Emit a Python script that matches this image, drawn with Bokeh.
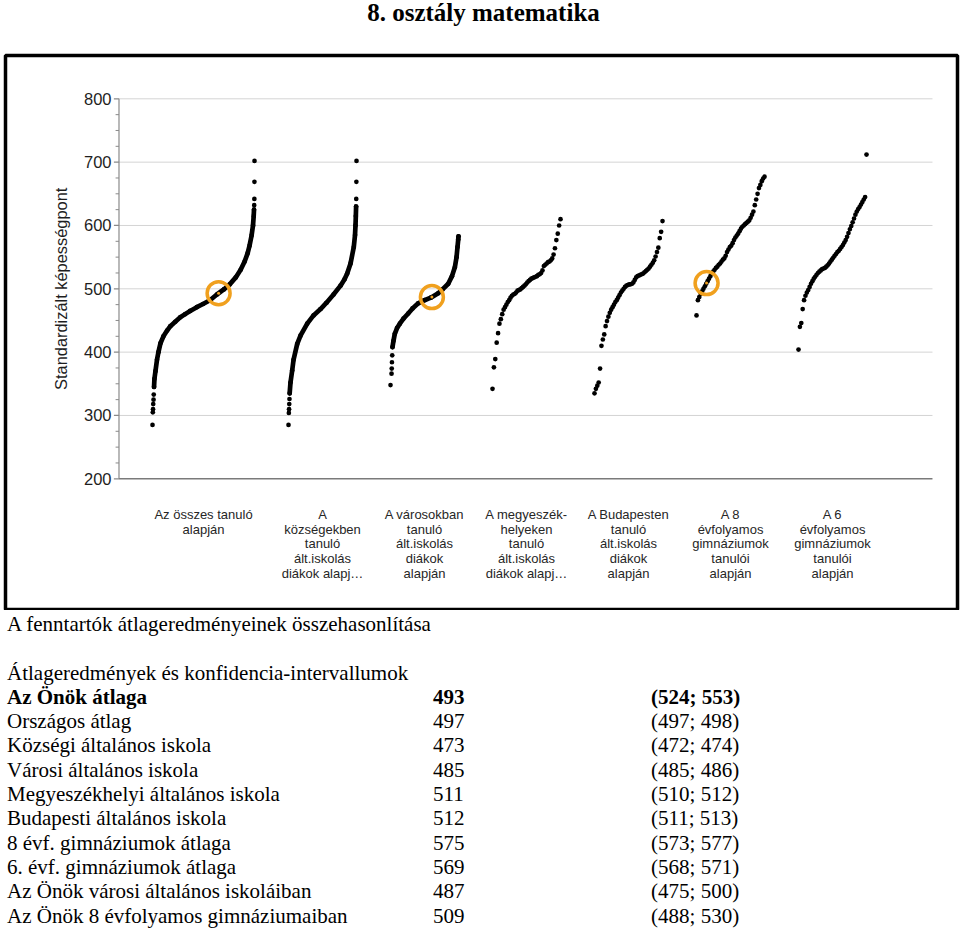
import numpy as np
from bokeh.plotting import figure
from bokeh.models import Range1d
from bokeh.layouts import column
from bokeh.embed import file_html
from bokeh.resources import INLINE
from bokeh.core.properties import value

# ---------------- data ----------------
TITLE = "8. osztály matematika"
Y_LABEL = "Standardizált képességpont"
Y_MAJOR_TICKS = [200, 300, 400, 500, 600, 700, 800]
Y_MINOR_STEP = 25

CATEGORIES = [
    "Az összes tanuló\nalapján",
    "A\nközségekben\ntanuló\nált.iskolás\ndiákok alapj…",
    "A városokban\ntanuló\nált.iskolás\ndiákok\nalapján",
    "A megyeszék-\nhelyeken\ntanuló\nált.iskolás\ndiákok alapj…",
    "A Budapesten\ntanuló\nált.iskolás\ndiákok\nalapján",
    "A 8\névfolyamos\ngimnáziumok\ntanulói\nalapján",
    "A 6\névfolyamos\ngimnáziumok\ntanulói\nalapján",
]

# dense groups: percentile rank inside the group and score
ALL_PCT = [0, 0.3, 0.5, 0.7, 1.0, 1.2, 1.5, 1.9, 2.9, 4.4, 5.8, 7.8, 10.7, 14.3, 17.5,
           22.3, 27.2, 32.0, 36.9, 43.4, 49.5, 56.3, 63.1, 69.9, 75.7, 81.6, 86.4, 90.3,
           93.2, 95.1, 97.1, 98.5, 99.2, 99.5, 99.7, 99.85, 99.93, 100]
ALL_SCORE = [285, 305, 310, 318, 325, 333, 345, 358, 370, 388, 400, 414, 425, 434, 441,
             448, 455, 460, 465, 471, 476, 482, 491, 499, 507, 518, 530, 543,
             556, 568, 584, 600, 615, 625, 632, 642, 669, 702]

VILLAGE_PCT = [0, 0.5, 0.8, 1.1, 1.4, 1.7, 2.9, 5.4, 7.4, 12.8, 17.6, 27.5, 36.8, 47.1,
               55.9, 66.2, 76.5, 82.4, 86.3, 91.2, 96.0, 97.8, 98.5, 99.0, 99.4, 99.6,
               99.8, 100]
VILLAGE_SCORE = [285, 304, 310, 318, 326, 335, 352, 371, 388, 413, 426, 445, 458, 468,
                 478, 491, 505, 515, 524, 540, 566, 585, 600, 615, 630, 642, 669, 702]

TOWN_PCT = [0, 1.5, 1.8, 2.1, 2.5, 2.9, 4.4, 6.3, 9.6, 13.7, 19.1, 26.0, 32.4, 40.7,
            50.0, 59.3, 70.1, 76.5, 84.9, 90.4, 94.6, 97.1, 98.5, 99.6, 100]
TOWN_SCORE = [348, 366, 374, 384, 395, 408, 418, 429, 438, 445, 453, 461, 469, 477,
              482, 486, 493, 499, 508, 520, 534, 550, 566, 578, 583]

# sparser groups: sorted school scores
COUNTY_SCORE = [342, 376, 389, 415, 430, 445, 452, 460, 467, 471,
                475, 479, 482, 486, 489, 491, 492, 494, 497, 498,
                499, 501, 503, 505, 507, 510, 512, 514, 516, 517,
                518, 519, 520, 522, 523, 525, 529, 536, 538, 540,
                542, 543, 545, 548, 554, 564, 577, 587, 600, 610]
BUDAPEST_SCORE = [335, 342, 347, 352, 374, 410, 420, 428, 441, 449,
                  456, 462, 467, 471, 475, 479, 482, 486, 490, 494,
                  497, 500, 503, 505, 506, 507, 507, 508, 510, 514,
                  518, 520, 521, 522, 523, 524, 526, 528, 530, 532,
                  535, 538, 541, 545, 551, 558, 565, 580, 590, 607]
GYM8_SCORE = [458, 482, 487, 492, 496, 500, 504, 508, 512, 516,
              520, 524, 527, 530, 533, 535, 538, 540, 543, 546,
              548, 552, 558, 562, 566, 568, 572, 577, 581, 584,
              587, 591, 595, 598, 600, 602, 604, 606, 608, 612,
              617, 622, 632, 641, 650, 659, 664, 670, 674, 677]
GYM6_SCORE = [404, 440, 446, 468, 482, 489, 494, 498, 503, 508,
              512, 516, 519, 522, 525, 527, 529, 531, 532, 533,
              535, 537, 540, 543, 546, 549, 552, 555, 558, 560,
              563, 566, 569, 573, 577, 582, 588, 594, 599, 605,
              611, 617, 622, 626, 629, 633, 637, 641, 645, 712]

SCHOOL_GROUP = [0, 2, 5]
SCHOOL_SCORE = [493, 487, 509]

TABLE_TITLE = "A fenntartók átlageredményeinek összehasonlítása"
TABLE_SUBTITLE = "Átlageredmények és konfidencia-intervallumok"
TABLE_ROWS = ["Az Önök átlaga", "Országos átlag", "Községi általános iskola",
              "Városi általános iskola", "Megyeszékhelyi általános iskola",
              "Budapesti általános iskola", "8 évf. gimnáziumok átlaga",
              "6. évf. gimnáziumok átlaga", "Az Önök városi általános iskoláiban",
              "Az Önök 8 évfolyamos gimnáziumaiban"]
TABLE_MEAN = [493, 497, 473, 485, 511, 512, 575, 569, 487, 509]
TABLE_CI_LOW = [524, 497, 472, 485, 510, 511, 573, 568, 475, 488]
TABLE_CI_HIGH = [553, 498, 474, 486, 512, 513, 577, 571, 500, 530]

# ---------------- layout / style ----------------
W = 960
SANS = value("Liberation Sans")
SERIF = value("Liberation Serif")
ORANGE = "#F0A01E"
DOT = 4.7

GROUP_WIDTH = [1.5, 1, 1, 1, 1, 1, 1]
GROUP_GAP = 0.5
left = np.concatenate([[0.0], np.cumsum(np.array(GROUP_WIDTH[:-1]) + GROUP_GAP)])
width = np.array(GROUP_WIDTH, dtype=float)
center = left + width / 2

sparse = [COUNTY_SCORE, BUDAPEST_SCORE, GYM8_SCORE, GYM6_SCORE]
group_pct = [np.array(ALL_PCT), np.array(VILLAGE_PCT), np.array(TOWN_PCT)] + \
            [np.linspace(0, 100, len(s)) for s in sparse]
group_score = [np.array(ALL_SCORE), np.array(VILLAGE_SCORE), np.array(TOWN_SCORE)] + \
              [np.array(s, dtype=float) for s in sparse]
LINE_PCT = {0: (1.5, 99.5), 1: (1.7, 99.4), 2: (2.9, 100)}

# ---------------- title ----------------
TT = 53
tf = figure(width=W, height=TT, x_range=Range1d(0, W), y_range=Range1d(TT, 0),
            x_axis_type=None, y_axis_type=None, toolbar_location=None,
            output_backend="svg", min_border=0)
tf.outline_line_color = None
tf.text(x=[482], y=[11.5], text=[TITLE], text_font=SERIF, text_font_size="25px",
        text_font_style="bold", text_align="center", text_baseline="middle",
        text_color="black")

# ---------------- chart ----------------
cf = figure(width=W, height=557, x_range=Range1d(-2.162, 11.838),
            y_range=Range1d(-6.4, 868.4),
            x_axis_type=None, y_axis_type=None, toolbar_location=None,
            output_backend="svg", min_border_left=5, min_border_right=3,
            min_border_top=2, min_border_bottom=1)
cf.outline_line_color = "black"
cf.outline_line_width = 3.5

AX_X = -0.493
GRID_END = 11.47
grid_ticks = [t for t in Y_MAJOR_TICKS if t != Y_MAJOR_TICKS[0]]
cf.segment(x0=[AX_X] * len(grid_ticks), y0=grid_ticks, x1=[GRID_END] * len(grid_ticks),
           y1=grid_ticks, line_color="#d4d4d4", line_width=1)
cf.segment(x0=[AX_X], y0=[Y_MAJOR_TICKS[0]], x1=[GRID_END], y1=[Y_MAJOR_TICKS[0]],
           line_color="#7a7a7a", line_width=1.4)
cf.segment(x0=[AX_X], y0=[Y_MAJOR_TICKS[0]], x1=[AX_X], y1=[Y_MAJOR_TICKS[-1]],
           line_color="#8a8a8a", line_width=1.2)
cf.segment(x0=[AX_X - 0.075] * len(Y_MAJOR_TICKS), y0=Y_MAJOR_TICKS,
           x1=[AX_X] * len(Y_MAJOR_TICKS), y1=Y_MAJOR_TICKS,
           line_color="#8a8a8a", line_width=1.2)
minor = [v for v in range(Y_MAJOR_TICKS[0], Y_MAJOR_TICKS[-1], Y_MINOR_STEP)
         if v not in Y_MAJOR_TICKS]
cf.segment(x0=[AX_X - 0.05] * len(minor), y0=minor, x1=[AX_X] * len(minor), y1=minor,
           line_color="#8a8a8a", line_width=1)
cf.text(x=[AX_X - 0.11] * len(Y_MAJOR_TICKS), y=Y_MAJOR_TICKS,
        text=[str(t) for t in Y_MAJOR_TICKS], text_font=SANS, text_font_size="16.5px",
        text_align="right", text_baseline="middle", text_color="#1e1e1e")
cf.text(x=[-1.353], y=[500], text=[Y_LABEL], angle=np.pi / 2, text_font=SANS,
        text_font_size="16.4px", text_align="center", text_baseline="middle",
        text_color="#1e1e1e")

for k in range(len(CATEGORIES)):
    pct = group_pct[k]
    sc = group_score[k]
    xs = left[k] + width[k] * pct / 100.0
    if k in LINE_PCT:
        lo, hi = LINE_PCT[k]
        m = (pct >= lo) & (pct <= hi)
        cf.line(xs[m], sc[m], line_color="black", line_width=DOT,
                line_join="round", line_cap="round")
    cf.scatter(xs, sc, marker="circle", size=DOT, fill_color="black", line_color=None)

# school markers
sx, sy = [], []
for g, s in zip(SCHOOL_GROUP, SCHOOL_SCORE):
    p = np.interp(s, group_score[g], group_pct[g])
    sx.append(left[g] + width[g] * p / 100.0)
    sy.append(s)
cf.scatter(sx, sy, marker="circle", size=3, fill_color=ORANGE, line_color=None)
cf.scatter(sx, sy, marker="circle", size=23, fill_color=None, line_color=ORANGE,
           line_width=3.5)

# category labels
LABEL_TOP = 143.2
LABEL_STEP = 23.05
lx, ly, lt = [], [], []
for k, cat in enumerate(CATEGORIES):
    for j, line in enumerate(cat.split("\n")):
        lx.append(center[k])
        ly.append(LABEL_TOP - LABEL_STEP * j)
        lt.append(line)
cf.text(x=lx, y=ly, text=lt, text_font=SANS, text_font_size="13px",
        text_align="center", text_baseline="middle", text_color="#262626")

# ---------------- table ----------------
TH = 318
tb = figure(width=W, height=TH, x_range=Range1d(0, W), y_range=Range1d(TH, 0),
            x_axis_type=None, y_axis_type=None, toolbar_location=None,
            output_backend="svg", min_border=0)
tb.outline_line_color = None
FS = "21px"
COL_X = [1.5, 431, 651]
tb.text(x=[COL_X[0]], y=[13.7], text=[TABLE_TITLE], text_font=SERIF, text_font_size=FS,
        text_baseline="middle", text_color="black")
tb.text(x=[COL_X[0]], y=[62], text=[TABLE_SUBTITLE], text_font=SERIF, text_font_size=FS,
        text_baseline="middle", text_color="black")
ROW0 = 86.3
ROW_STEP = 24.3
row_y = [ROW0 + ROW_STEP * i for i in range(len(TABLE_ROWS))]
ci = [f"({a}; {b})" for a, b in zip(TABLE_CI_LOW, TABLE_CI_HIGH)]
for col, texts in zip(COL_X, [TABLE_ROWS, [str(m) for m in TABLE_MEAN], ci]):
    tb.text(x=[col], y=[row_y[0]], text=[texts[0]], text_font=SERIF, text_font_size=FS,
            text_font_style="bold", text_baseline="middle", text_color="black")
    tb.text(x=[col] * (len(texts) - 1), y=row_y[1:], text=texts[1:], text_font=SERIF,
            text_font_size=FS, text_baseline="middle", text_color="black")

layout = column(tf, cf, tb, spacing=0)
open("out.html", "w").write(file_html(layout, INLINE, title=TITLE))
